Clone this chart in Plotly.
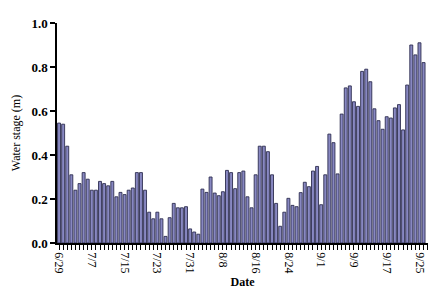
import datetime as dt
import plotly.graph_objects as go

start_date = "2003-06-29"
stage_m = [
    0.545, 0.54, 0.44, 0.31, 0.24, 0.27, 0.32, 0.29, 0.24, 0.24,
    0.28, 0.27, 0.26, 0.28, 0.21, 0.23, 0.22, 0.24, 0.25, 0.32,
    0.32, 0.24, 0.14, 0.11, 0.14, 0.11, 0.03, 0.115, 0.18, 0.16,
    0.16, 0.165, 0.064, 0.05, 0.04, 0.245, 0.23, 0.30, 0.227, 0.215,
    0.233, 0.33, 0.32, 0.247, 0.32, 0.327, 0.21, 0.16, 0.31, 0.44,
    0.44, 0.415, 0.31, 0.18, 0.076, 0.14, 0.203, 0.171, 0.165, 0.229,
    0.276, 0.256, 0.327, 0.348, 0.174, 0.31, 0.495, 0.456, 0.314, 0.586,
    0.705, 0.714, 0.642, 0.621, 0.78, 0.79, 0.733, 0.61, 0.556, 0.517,
    0.574, 0.568, 0.614, 0.629, 0.514, 0.718, 0.90, 0.855, 0.91, 0.82,
]
tick_labels = ["6/29", "7/7", "7/15", "7/23", "7/31", "8/8", "8/16", "8/24", "9/1", "9/9", "9/17", "9/25"]

d0 = dt.date.fromisoformat(start_date)
dates = [d0 + dt.timedelta(days=i) for i in range(len(stage_m))]
tick_dates = [d0 + dt.timedelta(days=8 * i) for i in range(len(tick_labels))]

DAY_MS = 86400000
fig = go.Figure(go.Bar(
    x=dates, y=stage_m,
    width=0.72 * DAY_MS,
    marker=dict(color="#8888c2", line=dict(color="#2e2e50", width=0.9)),
))

serif = "Liberation Serif, Times New Roman, serif"
fig.update_layout(
    width=448, height=296,
    margin=dict(l=57, r=20, t=23, b=53),
    paper_bgcolor="white", plot_bgcolor="white",
    showlegend=False,
    font=dict(family=serif, color="black"),
)
x_start = dt.datetime.combine(d0, dt.time()) - dt.timedelta(hours=12)
x_end = dt.datetime.combine(dates[-1], dt.time()) + dt.timedelta(hours=26)
fig.update_xaxes(
    type="date",
    automargin=False,
    range=[x_start, x_end],
    tickvals=tick_dates, ticktext=tick_labels,
    tickangle=90,
    tickfont=dict(size=12, family=serif),
    ticks="outside", ticklen=5, tickwidth=1, tickcolor="black",
    minor=dict(dtick=DAY_MS, tick0=start_date, ticks="outside", ticklen=5, tickwidth=1, tickcolor="black"),
    showline=True, linecolor="black", linewidth=1.5,
    showgrid=False, zeroline=False,
    title=dict(text="<b>Date</b>", font=dict(size=12, family=serif), standoff=5),
)
fig.update_yaxes(
    automargin=False,
    range=[0, 1.0],
    tickvals=[0, 0.2, 0.4, 0.6, 0.8, 1.0],
    tickformat=".1f",
    tickfont=dict(size=13, family=serif, weight="bold"),
    ticks="outside", ticklen=5, tickwidth=1.5, tickcolor="black",
    showline=True, linecolor="black", linewidth=1.5,
    showgrid=False, zeroline=False,
    title=dict(text="Water stage (m)", font=dict(size=12, family=serif), standoff=8),
)
fig.write_html("out.html")
